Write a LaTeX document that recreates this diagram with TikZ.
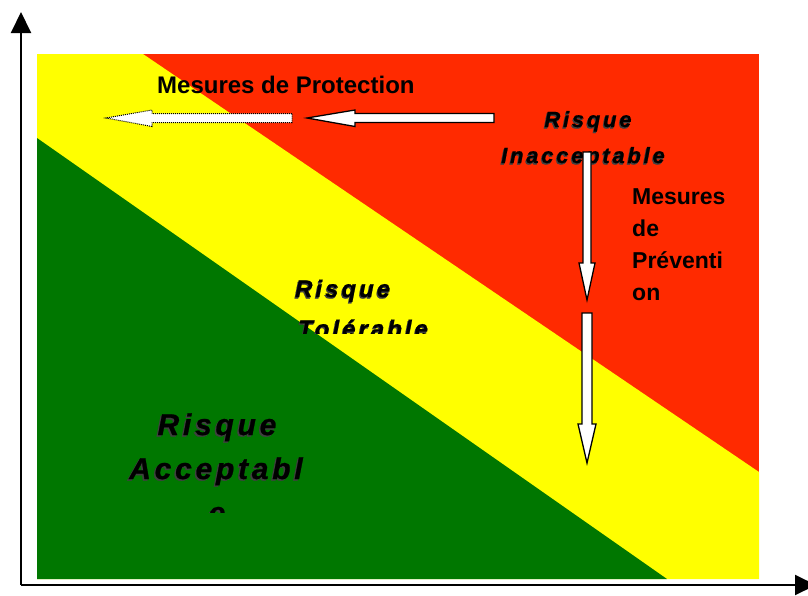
\documentclass[tikz,border=0pt]{standalone}
\usepackage{fontspec}
\setmainfont{Liberation Sans}
\newfontfamily\spacedfont[LetterSpace=12.5,BoldItalicFeatures={FakeBold=0.8}]{Liberation Sans}
\usetikzlibrary{arrows.meta}
\definecolor{riskred}{RGB}{255,42,0}
\definecolor{riskyellow}{RGB}{255,255,0}
\definecolor{riskgreen}{RGB}{0,119,0}
\tikzset{
  axisline/.style={line width=2pt,-{Triangle[length=21pt,width=20pt]}},
  blockarrow/.style={fill=white,draw=black,line width=1.3pt,line join=miter},
  dottedarrow/.style={fill=white,draw=black,line width=1pt,dash pattern=on 1pt off 1pt},
  plain/.style={inner sep=0pt,anchor=base west,font=\fontsize{23}{27}\selectfont\bfseries},
  zoneA/.style={inner sep=0pt,font=\fontsize{22}{26}\selectfont\spacedfont\bfseries\itshape},
  zoneB/.style={inner sep=0pt,font=\fontsize{24}{28}\selectfont\spacedfont\bfseries\itshape},
  zoneC/.style={inner sep=0pt,font=\fontsize{30}{36}\selectfont\spacedfont\bfseries\itshape},
  shadowtext/.style={text=black!75},
}
\begin{document}
\begin{tikzpicture}[x=1pt,y=-1pt]
\useasboundingbox (0,0) rectangle (808,595);
% zones
\fill[riskred] (37,54) rectangle (759,579);
\fill[riskyellow] (37,54) -- (143,54) -- (759,472) -- (759,579) -- (37,579) -- cycle;
\fill[riskgreen] (37,138) -- (667,579) -- (37,579) -- cycle;
% axes
\coordinate (O) at (21,585);
\coordinate (ytip) at (21,12);
\coordinate (xtip) at (816,585);
\draw[axisline] (O) -- (ytip);
\draw[axisline] (O) -- (xtip);
% labels
\node[plain,font=\fontsize{24}{29}\selectfont\bfseries] (prot) at (157,93) {Mesures de Protection};
\node[plain] (prev1) at (632,204) {Mesures};
\node[plain] (prev2) at (632,236) {de};
\node[plain] (prev3) at (632,268) {Préventi};
\node[plain] (prev4) at (632,300) {on};
% zone names
\node[zoneA,shadowtext,anchor=base] (inac1s) at (587,128.5) {Risque};
\node[zoneA,anchor=base] (inac1) at (588,127) {Risque};
\node[zoneA,shadowtext,anchor=base] (inac2s) at (582,164.5) {Inacceptable};
\node[zoneA,anchor=base] (inac2) at (583,163) {Inacceptable};
\begin{scope}
\clip (270,255) rectangle (470,333);
\node[zoneB,shadowtext,anchor=base west] (tol1s) at (294,298.5) {Risque};
\node[zoneB,anchor=base west] (tol1) at (295,297) {Risque};
\node[zoneB,shadowtext,anchor=base west] (tol2s) at (297,338.5) {Tolérable};
\node[zoneB,anchor=base west] (tol2) at (298,337) {Tolérable};
\end{scope}
\begin{scope}
\clip (100,385) rectangle (340,512);
\node[zoneC,shadowtext,anchor=base] (acc1s) at (215.5,436.5) {Risque};
\node[zoneC,anchor=base] (acc1) at (217,435) {Risque};
\node[zoneC,shadowtext,anchor=base] (acc2s) at (214.5,480.5) {Acceptabl};
\node[zoneC,anchor=base] (acc2) at (216,479) {Acceptabl};
\node[zoneC,shadowtext,anchor=base] (acc3s) at (215.5,524.5) {e};
\node[zoneC,anchor=base] (acc3) at (217,523) {e};
\end{scope}
% block arrows
\draw[blockarrow] (494,113.5) -- (355,113.5) -- (355,110) -- (307,118) -- (355,126.5) -- (355,122.5) -- (494,122.5) -- cycle;
\draw[dottedarrow] (292,113.5) -- (152,113.5) -- (152,110) -- (106,118) -- (152,126.5) -- (152,122.5) -- (292,122.5) -- cycle;
\draw[blockarrow] (583,152) -- (591,152) -- (591,263) -- (595,263) -- (587,300) -- (579,263) -- (583,263) -- cycle;
\draw[blockarrow] (582,313) -- (592,313) -- (592,424) -- (596,424) -- (587,463) -- (578,424) -- (582,424) -- cycle;
\end{tikzpicture}
\end{document}
